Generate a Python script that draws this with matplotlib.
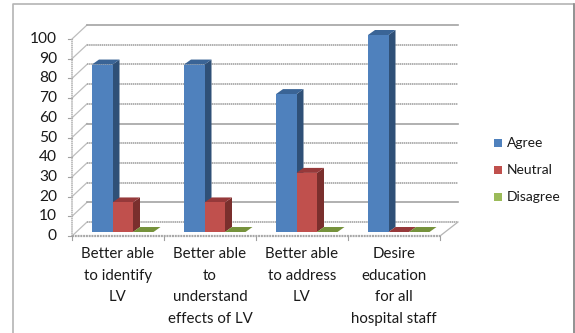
import matplotlib
matplotlib.use("Agg")
import matplotlib.pyplot as plt
from matplotlib.patches import Polygon, Rectangle

# -----------------------------------------
# DATA
# -----------------------------------------
CATEGORIES = [
    "Better able\nto identify\nLV",
    "Better able\nto\nunderstand\neffects of LV",
    "Better able\nto address\nLV",
    "Desire\neducation\nfor all\nhospital staff",
]
AGREE = [85, 85, 70, 100]
NEUTRAL = [15, 15, 30, 0]
DISAGREE = [0, 0, 0, 0]
SERIES_NAMES = ["Agree", "Neutral", "Disagree"]
Y_TICKS = list(range(0, 101, 10))
SOLID_TICKS = [10, 50, 100]

# -----------------------------------------
# STYLE
# -----------------------------------------
W, H = 575, 333
FRONT = ["#4F81BD", "#C0504D", "#9BBB59"]
SIDE = ["#2F5077", "#7A2F2D", "#627A35"]
TOP = ["#3A6496", "#96393A", "#76923C"]
GRID = "#A3A3A3"
TEXT = "#1A1A1A"
plt.rcParams["font.family"] = ["Lato", "DejaVu Sans"]

fig = plt.figure(figsize=(W / 100, H / 100), dpi=100)

# axes spans the front edge of the floor, one x unit per category
x0, x1, y_bot, y_top = 72, 440, 236, 39
ax = fig.add_axes([x0 / W, 1 - y_bot / H, (x1 - x0) / W, (y_bot - y_top) / H])
ax.set_xlim(0, len(CATEGORIES))
ax.set_ylim(0, 100)
ax.axis("off")

px_x = len(CATEGORIES) / (x1 - x0)
px_y = 100 / (y_bot - y_top)

# chart border, open at the bottom edge of the figure
fig.add_artist(plt.Line2D([13 / W, 13 / W, 574 / W, 574 / W], [0, 1 - 4 / H, 1 - 4 / H, 0],
                          transform=fig.transFigure, color="#B4B4B4", lw=1.2))
fig.add_artist(plt.Line2D([574 / W, 574 / W], [0, 1 - 4 / H],
                          transform=fig.transFigure, color="#8C8C8C", lw=1.2))

# -----------------------------------------
# WALLS AND GRID
# -----------------------------------------
wall_dx = 15 * px_x
wall_end_dx = 18 * px_x
wall_dy = 14 * px_y
n = len(CATEGORIES)
for tick in Y_TICKS:
    ax.plot([0, wall_dx], [tick, tick + wall_dy], color="#BDBDBD", lw=0.9, clip_on=False, zorder=1)
    style = "-" if tick in SOLID_TICKS else (0, (0.9, 0.35))
    ax.plot([wall_dx, n + wall_end_dx], [tick + wall_dy, tick + wall_dy], color=GRID, lw=1.2,
            ls=style, clip_on=False, zorder=1)
    ax.plot([-4 * px_x, 0], [tick, tick], color="#A0A0A0", lw=0.8, clip_on=False, zorder=1)
    ax.text(-15 * px_x, tick, str(tick), ha="right", va="center", fontsize=11.2, color=TEXT)

ax.plot([0, 0], [0, 100], color="#B5B5B5", lw=1.2, ls=(0, (0.9, 0.35)), clip_on=False, zorder=1)
ax.plot([n, n + wall_end_dx], [0, wall_dy], color="#B5B5B5", lw=0.9, clip_on=False, zorder=1)
ax.plot([0, n], [0, 0], color="#A8A8A8", lw=1.6, ls=(0, (0.9, 0.35)), clip_on=False, zorder=1)
for i in range(n + 1):
    ax.plot([i, i], [0, -4 * px_y], color="#A0A0A0", lw=0.8, clip_on=False, zorder=1)

# -----------------------------------------
# BARS
# -----------------------------------------
bar_w = 20.5 * px_x
gap = 15 * px_x
shift_x = 5 * px_x
shift_y = 4 * px_y
depth_x = 7 * px_x
depth_y = 5 * px_y


def draw_bar(left, value, s):
    right = left + bar_w
    base = shift_y
    top = base + value
    ax.add_patch(Polygon([(right, base), (right + depth_x, base + depth_y),
                          (right + depth_x, top + depth_y), (right, top)],
                         fc=SIDE[s], ec="none", zorder=3, clip_on=False))
    ax.add_patch(Polygon([(left, top), (left + depth_x, top + depth_y),
                          (right + depth_x, top + depth_y), (right, top)],
                         fc=TOP[s], ec="none", zorder=3, clip_on=False))
    if value > 0:
        ax.add_patch(Rectangle((left, base), bar_w, value, fc=FRONT[s], ec="none",
                               zorder=3, clip_on=False))


for i, label in enumerate(CATEGORIES):
    for s, values in enumerate([AGREE, NEUTRAL, DISAGREE]):
        draw_bar(i + shift_x + gap + s * bar_w, values[i], s)
    ax.text(i + 0.5, -(247.5 - 236) * px_y, label, ha="center", va="top", fontsize=10.8,
            color=TEXT, linespacing=1.67, clip_on=False)

# -----------------------------------------
# LEGEND
# -----------------------------------------
for s, name in enumerate(SERIES_NAMES):
    cy = 143 + s * 27
    fig.add_artist(Rectangle((494 / W, 1 - (cy + 4) / H), 8 / W, 8 / H, transform=fig.transFigure,
                             fc=FRONT[s], ec="none"))
    fig.text(507 / W, 1 - cy / H, name, ha="left", va="center", fontsize=10, color=TEXT)

fig.savefig("out.png", dpi=100)
